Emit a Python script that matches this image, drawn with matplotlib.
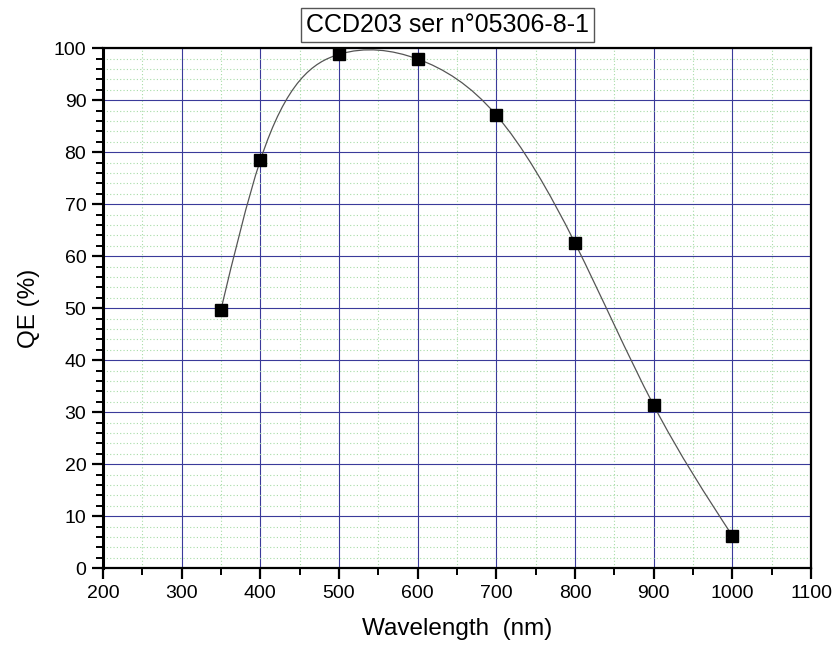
import numpy as np
import matplotlib.pyplot as plt
from matplotlib.path import Path
from matplotlib.patches import PathPatch
from matplotlib.ticker import MultipleLocator

plt.rcParams['font.family'] = ['Liberation Sans', 'DejaVu Sans']

# Data
wavelength = [350, 400, 500, 600, 700, 800, 900, 1000]
qe = [49.7, 78.4, 98.8, 97.9, 87.1, 62.5, 31.3, 6.2]
title = 'CCD203 ser n°05306-8-1'


def spline_path(x, y):
    # natural cubic spline slopes, drawn as bezier segments
    x = np.asarray(x, float)
    y = np.asarray(y, float)
    n = len(x)
    h = np.diff(x)
    A = np.zeros((n, n))
    b = np.zeros(n)
    A[0, 0], A[0, 1] = 2, 1
    b[0] = 3 * (y[1] - y[0]) / h[0]
    A[-1, -2], A[-1, -1] = 1, 2
    b[-1] = 3 * (y[-1] - y[-2]) / h[-1]
    for i in range(1, n - 1):
        A[i, i - 1] = 1 / h[i - 1]
        A[i, i] = 2 * (1 / h[i - 1] + 1 / h[i])
        A[i, i + 1] = 1 / h[i]
        b[i] = 3 * ((y[i] - y[i - 1]) / h[i - 1] ** 2 + (y[i + 1] - y[i]) / h[i] ** 2)
    m = np.linalg.solve(A, b)
    verts = [(x[0], y[0])]
    codes = [Path.MOVETO]
    for i in range(n - 1):
        d = h[i] / 3
        verts += [(x[i] + d, y[i] + d * m[i]),
                  (x[i + 1] - d, y[i + 1] - d * m[i + 1]),
                  (x[i + 1], y[i + 1])]
        codes += [Path.CURVE4] * 3
    return Path(verts, codes)


fig = plt.figure(figsize=(8.37, 6.5), dpi=100)
ax = fig.add_axes([0.123, 0.126, 0.846, 0.8])

ax.add_patch(PathPatch(spline_path(wavelength, qe), facecolor='none',
                       edgecolor='#555555', linewidth=0.9, zorder=3))
ax.plot(wavelength, qe, linestyle='none', marker='s', markersize=8.5,
        color='black', zorder=4)

ax.set_xlim(200, 1100)
ax.set_ylim(0, 100)
ax.xaxis.set_major_locator(MultipleLocator(100))
ax.xaxis.set_minor_locator(MultipleLocator(50))
ax.yaxis.set_major_locator(MultipleLocator(10))
ax.yaxis.set_minor_locator(MultipleLocator(2))

ax.grid(True, which='major', color='#3a3a9a', linewidth=0.8, zorder=1)
ax.grid(True, which='minor', color='#a8dca8', linewidth=0.8,
        linestyle=(0, (1, 2)), zorder=0)
ax.set_axisbelow(True)

for s in ax.spines.values():
    s.set_linewidth(1.6)
ax.spines['left'].set_linewidth(2.2)

ax.tick_params(which='major', direction='out', length=8, width=1.6,
               labelsize=14, pad=4)
ax.tick_params(which='minor', direction='out', length=5, width=1.4)

ax.set_xlabel('Wavelength  (nm)', fontsize=17.5, labelpad=12)
ax.set_ylabel('QE (%)', fontsize=17.5, labelpad=10)

fig.text(0.535, 0.962, title, ha='center', va='center', fontsize=18,
         bbox=dict(boxstyle='square,pad=0.2', facecolor='white',
                   edgecolor='#555555', linewidth=1))

fig.savefig('out.png', dpi=100)
